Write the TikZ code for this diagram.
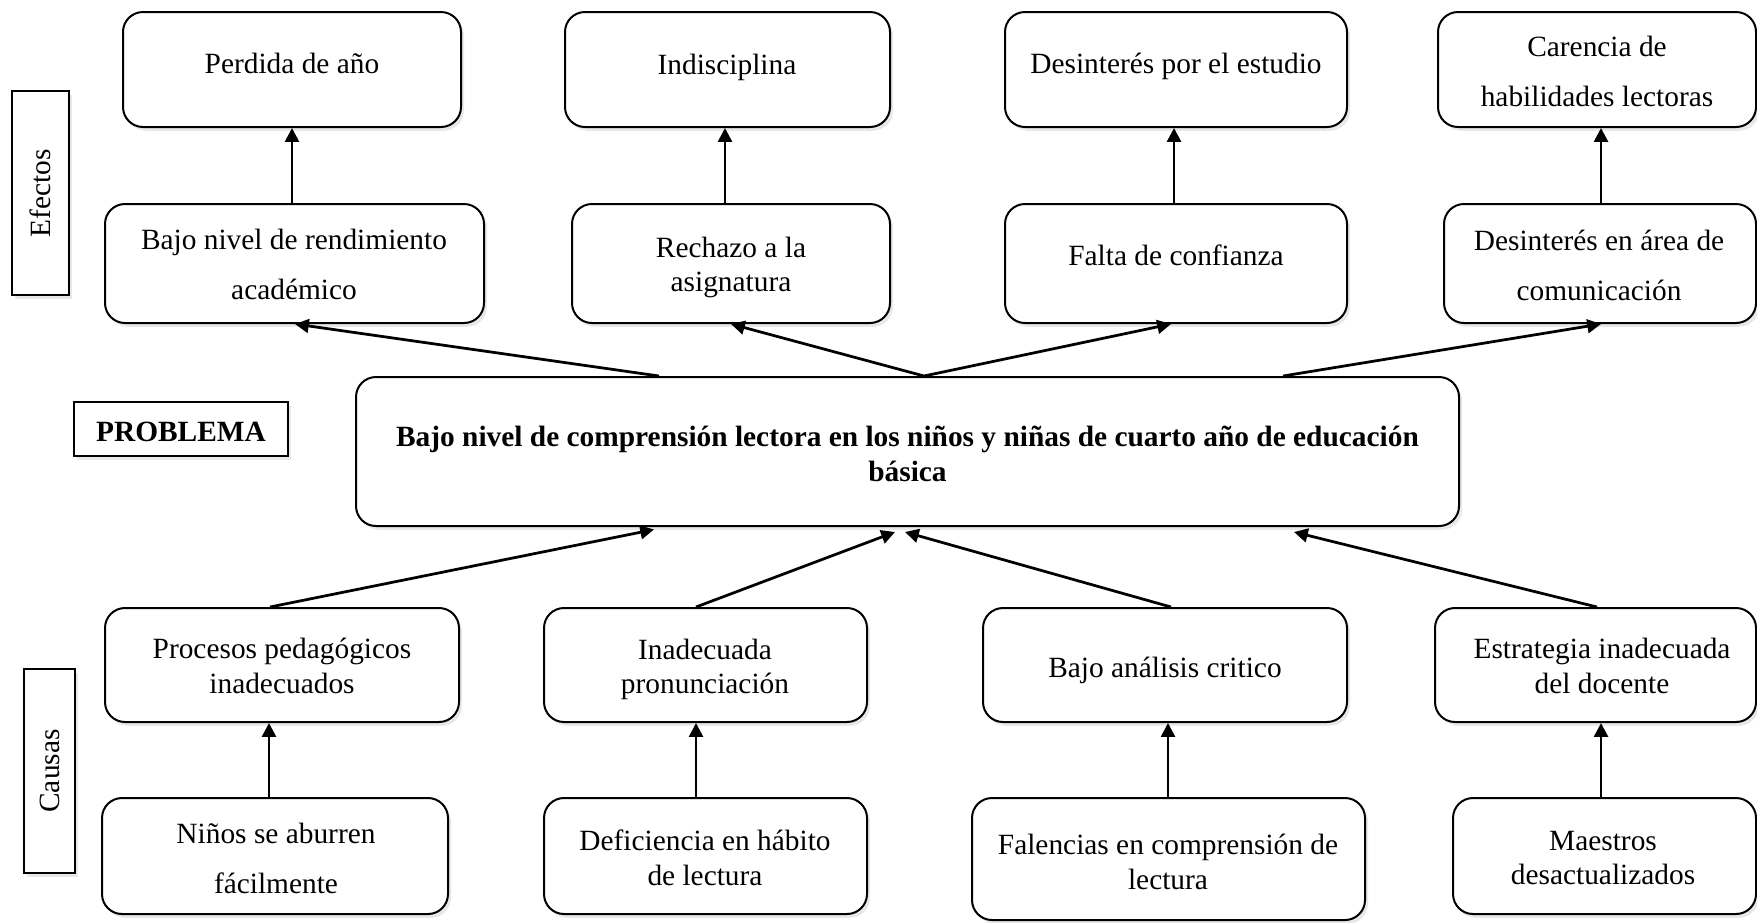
\documentclass[tikz,border=0pt]{standalone}
\usepackage{fontspec}
\setmainfont{Liberation Serif}
\usetikzlibrary{arrows.meta,shadows}
\begin{document}
\begin{tikzpicture}[x=0.4pt,y=-0.4pt,
  sz/.style 2 args={minimum width=#1*0.4pt, minimum height=#2*0.4pt},
  box/.style={draw, line width=0.8pt, rounded corners=8pt, fill=white, inner sep=0pt,
    drop shadow={opacity=0.18, shadow xshift=1.2pt, shadow yshift=-1.5pt}},
  lbl/.style={draw, line width=0.8pt, fill=white, inner sep=0pt,
    drop shadow={opacity=0.18, shadow xshift=1.2pt, shadow yshift=-1.5pt}},
  txt/.style={font=\fontsize{11.75}{13.8}\selectfont, align=center, inner sep=0pt},
  arr/.style={line width=1.1pt, -{Triangle[length=5.5pt,width=5.5pt]}}
]
\useasboundingbox (0,0) rectangle (1757,922);

% label boxes
\node[lbl, sz={57}{204}] (lE) at (40.5,193) {};
\node[txt, rotate=90] (tE) at (lE) {Efectos};
\node[lbl, sz={51}{204}] (lC) at (49.5,771) {};
\node[txt, rotate=90] (tC) at (lC) {Causas};
\node[lbl, sz={214}{54}] (lP) at (181,429) {};
\node[txt, font=\fontsize{11.75}{13.8}\selectfont\bfseries] (tP) at (181,432) {PROBLEMA};

% effects, upper row
\node[box, sz={338}{115}] (e1a) at (292,69.5) {};
\node[box, sz={325}{115}] (e2a) at (727.5,69.5) {};
\node[box, sz={342}{115}] (e3a) at (1176,69.5) {};
\node[box, sz={318}{115}] (e4a) at (1597,69.5) {};
% effects, lower row
\node[box, sz={379}{119}] (e1b) at (294.5,263.5) {};
\node[box, sz={318}{119}] (e2b) at (731,263.5) {};
\node[box, sz={342}{119}] (e3b) at (1176,263.5) {};
\node[box, sz={312}{119}] (e4b) at (1600,263.5) {};
% main problem
\node[box, sz={1103}{149}] (m) at (907.5,451.5) {};
% causes, upper row
\node[box, sz={354}{114}] (c1a) at (282,665) {};
\node[box, sz={323}{114}] (c2a) at (705.5,665) {};
\node[box, sz={364}{114}] (c3a) at (1165,665) {};
\node[box, sz={321}{114}] (c4a) at (1595.5,665) {};
% causes, lower row
\node[box, sz={346}{116}] (c1b) at (275,856) {};
\node[box, sz={323}{116}] (c2b) at (705.5,856) {};
\node[box, sz={393}{122}] (c3b) at (1168.5,859) {};
\node[box, sz={303}{116}] (c4b) at (1604.5,856) {};

% texts
\node[txt] (t1a) at (292,63) {Perdida de año};
\node[txt] (t2a) at (727,67.5) {Indisciplina};
\node[txt] (t3a) at (1176,66) {Desinterés por el estudio};
\node[txt] (t4a) at (1597,71) {Carencia de\\[6.2pt]habilidades lectoras};
\node[txt] (t1b) at (294,264) {Bajo nivel de rendimiento\\[6.2pt]académico};
\node[txt] (t2b) at (731,267.5) {Rechazo a la\\asignatura};
\node[txt] (t3b) at (1176,255) {Falta de confianza};
\node[txt] (t4b) at (1599,265) {Desinterés en área de\\[6.2pt]comunicación};
\node[txt, font=\fontsize{11.75}{13.8}\selectfont\bfseries] (tm) at (907.5,454)
  {Bajo nivel de comprensión lectora en los niños y niñas de cuarto año de educación\\básica};
\node[txt] (t1c) at (282,666) {Procesos pedagógicos\\inadecuados};
\node[txt] (t2c) at (705,669.5) {Inadecuada\\pronunciación};
\node[txt] (t3c) at (1165,670) {Bajo análisis critico};
\node[txt] (t4c) at (1602,666) {Estrategia inadecuada\\del docente};
\node[txt] (t1d) at (276,858) {Niños se aburren\\[6.2pt]fácilmente};
\node[txt] (t2d) at (705,858) {Deficiencia en hábito\\de lectura};
\node[txt] (t3d) at (1168,862) {Falencias en comprensión de\\lectura};
\node[txt] (t4d) at (1603,858) {Maestros\\desactualizados};

% helper x positions
\coordinate (v1) at (292,0);  \coordinate (v2) at (725,0);
\coordinate (v3) at (1174,0); \coordinate (v4) at (1601,0);
\coordinate (w1) at (269,0);  \coordinate (w2) at (696,0);
\coordinate (w3) at (1168,0); \coordinate (w4) at (1601,0);
\coordinate (mt1) at (659,0); \coordinate (mt2) at (924,0); \coordinate (mt3) at (1283,0);
\coordinate (h1) at (295,0);  \coordinate (h2) at (731,0);
\coordinate (h3) at (1171,0); \coordinate (h4) at (1601,0);
\coordinate (s1) at (270,0);  \coordinate (s2) at (696,0);
\coordinate (s3) at (1171,0); \coordinate (s4) at (1597,0);
\coordinate (mb1) at (654,0); \coordinate (mb2) at (895,0);
\coordinate (mb3) at (905,0); \coordinate (mb4) at (1294,0);

% vertical arrows, effects
\draw[arr] (e1b.north -| v1) -- (e1a.south -| v1);
\draw[arr] (e2b.north -| v2) -- (e2a.south -| v2);
\draw[arr] (e3b.north -| v3) -- (e3a.south -| v3);
\draw[arr] (e4b.north -| v4) -- (e4a.south -| v4);
% vertical arrows, causes
\draw[arr] (c1b.north -| w1) -- (c1a.south -| w1);
\draw[arr] (c2b.north -| w2) -- (c2a.south -| w2);
\draw[arr] (c3b.north -| w3) -- (c3a.south -| w3);
\draw[arr] (c4b.north -| w4) -- (c4a.south -| w4);
% problem to effects
\draw[arr] (m.north -| mt1) -- (e1b.south -| h1);
\draw[arr] (m.north -| mt2) -- (e2b.south -| h2);
\draw[arr] (m.north -| mt2) -- (e3b.south -| h3);
\draw[arr] (m.north -| mt3) -- (e4b.south -| h4);
% causes to problem
\draw[arr] (c1a.north -| s1) -- ([yshift=-1pt]m.south -| mb1);
\draw[arr] (c2a.north -| s2) -- ([yshift=-2pt]m.south -| mb2);
\draw[arr] (c3a.north -| s3) -- ([yshift=-2pt]m.south -| mb3);
\draw[arr] (c4a.north -| s4) -- ([yshift=-2pt]m.south -| mb4);
\end{tikzpicture}
\end{document}
